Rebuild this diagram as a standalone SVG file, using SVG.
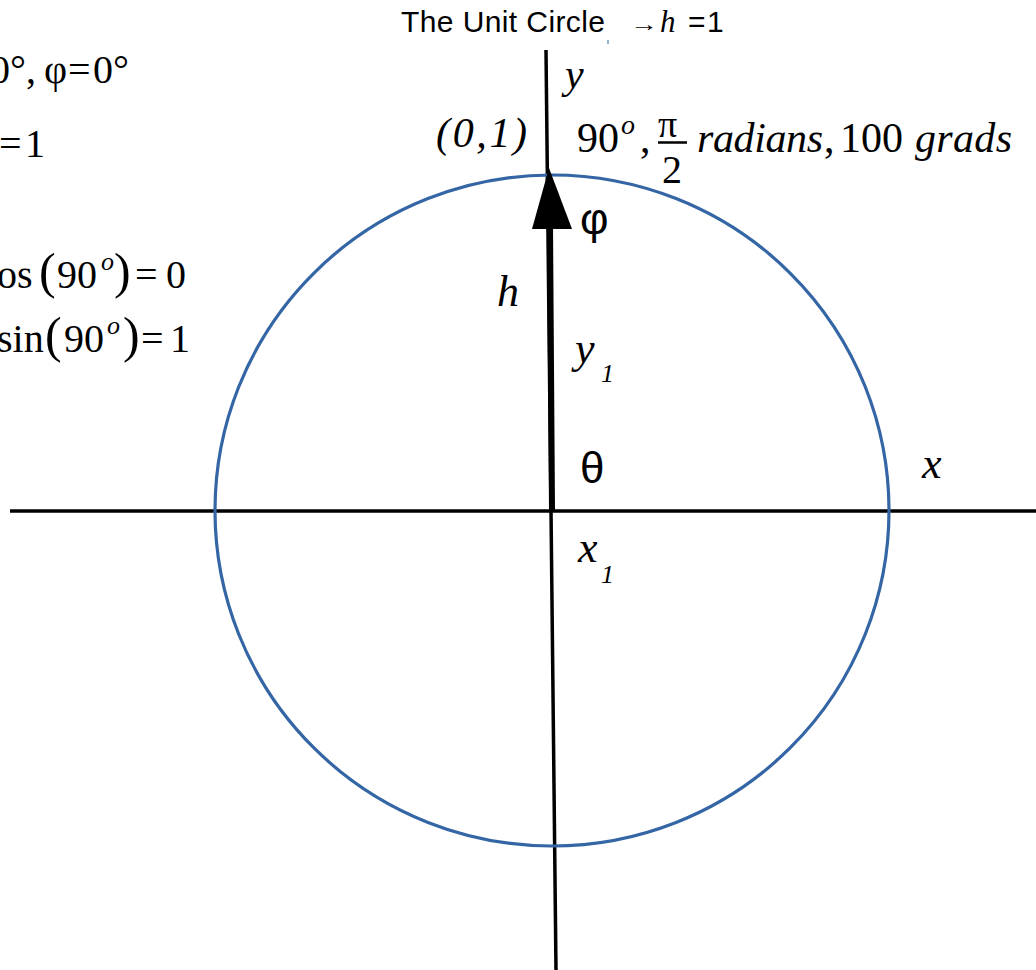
<svg xmlns="http://www.w3.org/2000/svg" width="1036" height="970" viewBox="0 0 1036 970">
<style>
.m{font-family:"Liberation Serif","DejaVu Serif",serif;fill:#000}
.i{font-style:italic}
.s{font-family:"Liberation Sans",Arial,sans-serif;fill:#000}
</style>
<rect width="1036" height="970" fill="#fff"/>
<g id="axes">
<line x1="10" y1="511" x2="1036" y2="511" stroke="#000" stroke-width="3.5"/>
<line x1="546" y1="50" x2="556" y2="970" stroke="#000" stroke-width="3.5"/>
</g>
<g id="circle">
<ellipse cx="552" cy="510.5" rx="337" ry="335.5" fill="none" stroke="#3465a4" stroke-width="3.2"/>
</g>
<g id="connectors">
<line x1="552" y1="511" x2="550" y2="224" stroke="#000" stroke-width="6"/>
<polygon points="549,168 572,229 532,229" fill="#000"/>
</g>
<g id="title">
<text class="s" x="401" y="32" font-size="30" textLength="204">The Unit Circle</text>
<text class="s" x="630" y="31" font-size="20" textLength="28" lengthAdjust="spacingAndGlyphs">→</text>
<text class="m i" x="660" y="32" font-size="31">h</text>
<text class="s" x="688" y="32" font-size="30">=</text>
<text class="s" x="707" y="32" font-size="30">1</text>
<line x1="608" y1="40" x2="608" y2="44" stroke="#3465a4" stroke-width="1"/>
</g>
<g id="left-text" class="m" font-size="40">
<text y="83"><tspan x="-10">0°,</tspan><tspan x="44">φ</tspan><tspan x="68">=</tspan><tspan x="93">0°</tspan></text>
<text y="157"><tspan x="-1">=</tspan><tspan x="25">1</tspan></text>
<text y="288"><tspan x="-3">os</tspan><tspan x="39" font-size="50">(</tspan><tspan x="57">90</tspan><tspan x="101" y="270" class="i" font-size="26">o</tspan><tspan x="114" y="288" font-size="50">)</tspan><tspan x="135">=</tspan><tspan x="166">0</tspan></text>
<text y="352"><tspan x="-3">sin</tspan><tspan x="45" font-size="50">(</tspan><tspan x="64">90</tspan><tspan x="107" y="334" class="i" font-size="26">o</tspan><tspan x="123" y="352" font-size="50">)</tspan><tspan x="141">=</tspan><tspan x="170">1</tspan></text>
</g>
<g id="labels">
<text class="m i" x="565" y="88" font-size="42">y</text>
<text class="m i" x="436" y="147" font-size="42" textLength="91">(0,1)</text>
<text class="m" x="577" y="152" font-size="42">90</text>
<text class="m i" x="621" y="134" font-size="28">o</text>
<text class="m" x="640" y="152" font-size="42">,</text>
<text class="m" x="658" y="137" font-size="38">π</text>
<line x1="658" y1="142.5" x2="687" y2="142.5" stroke="#000" stroke-width="2.5"/>
<text class="m" x="662" y="183" font-size="40">2</text>
<text class="m i" x="697" y="152" font-size="42" textLength="126">radians</text>
<text class="m" x="824" y="152" font-size="42">,</text>
<text class="m" x="840" y="152" font-size="42" textLength="63">100</text>
<text class="m i" x="915" y="152" font-size="42" textLength="97">grads</text>
<text class="s" x="580" y="234" font-size="44">φ</text>
<text class="m i" x="497" y="306" font-size="44">h</text>
<text class="m i" x="575" y="363" font-size="44">y</text>
<text class="m i" x="601" y="382" font-size="26">1</text>
<text class="s" x="580" y="483" font-size="44">θ</text>
<text class="m i" x="922" y="478" font-size="44">x</text>
<text class="m i" x="578" y="562" font-size="44">x</text>
<text class="m i" x="601" y="583" font-size="26">1</text>
</g>
</svg>
